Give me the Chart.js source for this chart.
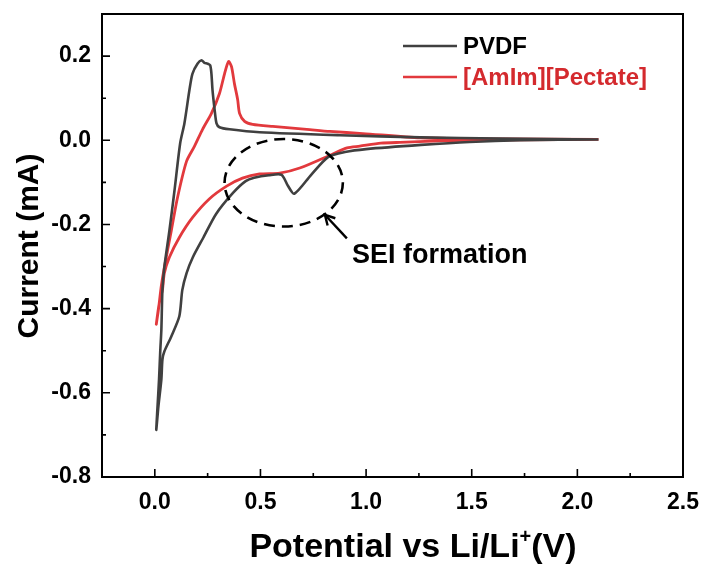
<!DOCTYPE html>
<html><head><meta charset="utf-8">
<script src="https://cdn.jsdelivr.net/npm/chart.js@4.4.0/dist/chart.umd.min.js"></script>
<style>html,body{margin:0;padding:0;background:#fff;}#wrap{width:702px;height:565px;}</style>
</head><body><div id="wrap"><canvas id="c" width="702" height="565"></canvas></div>
<script>
// ---- data ----
const xTicks = [0.0, 0.5, 1.0, 1.5, 2.0, 2.5];
const yTicks = [-0.8, -0.6, -0.4, -0.2, 0.0, 0.2];
const xMinor = [0.25, 0.75, 1.25, 1.75, 2.25];
const yMinor = [-0.7, -0.5, -0.3, -0.1, 0.1];
const seriesNames = ['PVDF', '[AmIm][Pectate]'];
const xTitle = 'Potential vs Li/Li';
const yTitle = 'Current (mA)';
const noteText = 'SEI formation';

const pvdfV = [2.10,1.73,1.49,1.26,1.00,0.90,0.82,0.74,0.66,0.63,0.60,0.54,0.47,0.43,0.37,0.29,0.23,0.18,0.15,0.13,0.116,0.078,0.045,0.036,0.031,0.017,0.007,
  0.012,0.020,0.026,0.031,0.036,0.045,0.069,0.093,0.120,0.140,0.164,0.178,0.202,0.221,0.235,0.249,0.262,0.268,0.273,0.283,0.292,0.306,0.354,0.496,0.876,1.256,1.636,2.10];
const pvdfI = [0.002,0.000,-0.004,-0.011,-0.021,-0.028,-0.040,-0.082,-0.127,-0.108,-0.082,-0.083,-0.089,-0.097,-0.125,-0.175,-0.231,-0.278,-0.316,-0.356,-0.418,-0.466,-0.502,-0.521,-0.568,-0.632,-0.688,
  -0.640,-0.568,-0.498,-0.450,-0.356,-0.302,-0.215,-0.120,-0.007,0.040,0.120,0.158,0.182,0.190,0.184,0.182,0.178,0.158,0.120,0.073,0.040,0.031,0.026,0.019,0.012,0.007,0.004,0.002];

const ilV = [2.10,1.73,1.40,1.16,1.07,0.97,0.91,0.84,0.686,0.591,0.496,0.415,0.340,0.259,0.178,0.116,0.069,0.045,0.036,0.021,0.007,
  0.017,0.031,0.045,0.078,0.107,0.150,0.188,0.226,0.268,0.306,0.330,0.349,0.363,0.377,0.392,0.401,0.425,0.463,0.558,0.719,0.829,0.985,1.256,1.636,2.10];
const ilI = [0.002,0.001,-0.001,-0.005,-0.007,-0.014,-0.018,-0.033,-0.066,-0.078,-0.080,-0.090,-0.109,-0.139,-0.184,-0.231,-0.278,-0.316,-0.356,-0.387,-0.437,
  -0.403,-0.345,-0.302,-0.215,-0.137,-0.050,-0.014,0.026,0.064,0.111,0.158,0.187,0.175,0.134,0.097,0.064,0.045,0.038,0.033,0.026,0.021,0.016,0.006,0.003,0.002];

const FONT = "'Liberation Sans', Arial, sans-serif";
const toPts = (xs, ys) => xs.map((x, i) => ({x: x, y: ys[i]}));

const decor = {
  id: 'decor',
  afterDraw(chart) {
    const ctx = chart.ctx, a = chart.chartArea;
    const sx = chart.scales.x, sy = chart.scales.y;
    ctx.save();
    // frame
    ctx.strokeStyle = '#000'; ctx.lineWidth = 2;
    ctx.strokeRect(a.left, a.top, a.right - a.left, a.bottom - a.top);
    // inward ticks
    ctx.lineWidth = 1.6;
    ctx.beginPath();
    xTicks.forEach(v => { const p = sx.getPixelForValue(v); ctx.moveTo(p, a.bottom); ctx.lineTo(p, a.bottom - 8); });
    xMinor.forEach(v => { const p = sx.getPixelForValue(v); ctx.moveTo(p, a.bottom); ctx.lineTo(p, a.bottom - 4); });
    yTicks.forEach(v => { const p = sy.getPixelForValue(v); ctx.moveTo(a.left, p); ctx.lineTo(a.left + 8, p); });
    yMinor.forEach(v => { const p = sy.getPixelForValue(v); ctx.moveTo(a.left, p); ctx.lineTo(a.left + 4, p); });
    ctx.stroke();

    // dashed ellipse
    const cx = sx.getPixelForValue(0.61), cy = sy.getPixelForValue(-0.101);
    const rx = sx.getPixelForValue(0.61 + 0.28) - cx, ry = sy.getPixelForValue(-0.101 - 0.104) - cy;
    ctx.setLineDash([11, 7]); ctx.lineWidth = 2.6;
    ctx.beginPath(); ctx.ellipse(cx, cy, rx, ry, 0, 0, Math.PI * 2); ctx.stroke();
    ctx.setLineDash([]);
    // arrow
    const tx = sx.getPixelForValue(0.909), ty = sy.getPixelForValue(-0.233);
    const hx = sx.getPixelForValue(0.805), hy = sy.getPixelForValue(-0.177);
    ctx.lineWidth = 2.4;
    ctx.beginPath(); ctx.moveTo(tx, ty); ctx.lineTo(hx, hy); ctx.stroke();
    const ang = Math.atan2(hy - ty, hx - tx);
    ctx.beginPath();
    ctx.moveTo(hx - 11 * Math.cos(ang - 0.5), hy - 11 * Math.sin(ang - 0.5));
    ctx.lineTo(hx, hy);
    ctx.lineTo(hx - 11 * Math.cos(ang + 0.5), hy - 11 * Math.sin(ang + 0.5));
    ctx.stroke();
    // note text
    ctx.fillStyle = '#000'; ctx.font = 'bold 27px ' + FONT;
    ctx.textBaseline = 'middle'; ctx.textAlign = 'left';
    ctx.fillText(noteText, sx.getPixelForValue(0.933), sy.getPixelForValue(-0.275));

    // legend
    const ds = chart.data.datasets;
    const legY = [46, 77];
    ds.forEach((d, i) => {
      ctx.strokeStyle = d.borderColor; ctx.lineWidth = 2.6;
      ctx.beginPath(); ctx.moveTo(403, legY[i]); ctx.lineTo(457, legY[i]); ctx.stroke();
      ctx.fillStyle = i === 0 ? '#000' : '#d42a2e';
      ctx.font = 'bold 24px ' + FONT; ctx.textBaseline = 'middle'; ctx.textAlign = 'left';
      ctx.fillText(d.label, 463, legY[i] + 1);
    });

    // x title with superscript
    ctx.fillStyle = '#000'; ctx.textBaseline = 'alphabetic';
    const big = 'bold 34px ' + FONT, small = 'bold 20px ' + FONT;
    ctx.font = big; const w1 = ctx.measureText(xTitle).width, w3 = ctx.measureText('(V)').width;
    ctx.font = small; const w2 = ctx.measureText('+').width;
    let x0 = 413 - (w1 + w2 + w3) / 2; const base = 557;
    ctx.font = big; ctx.textAlign = 'left'; ctx.fillText(xTitle, x0, base);
    ctx.font = small; ctx.fillText('+', x0 + w1, base - 14);
    ctx.font = big; ctx.fillText('(V)', x0 + w1 + w2, base);
    // y title
    ctx.font = 'bold 30px ' + FONT;
    ctx.translate(30, 246); ctx.rotate(-Math.PI / 2);
    ctx.textAlign = 'center'; ctx.textBaseline = 'middle';
    ctx.fillText(yTitle, 0, 0);
    ctx.restore();
  }
};

const zeroPad = s => { s.paddingTop = 0; s.paddingBottom = 0; s.paddingLeft = 0; s.paddingRight = 0; };

new Chart(document.getElementById('c'), {
  type: 'scatter',
  data: {
    datasets: [
      {label: seriesNames[0], data: toPts(pvdfV, pvdfI), showLine: true, borderColor: '#404040', borderWidth: 2.6, pointRadius: 0, tension: 0.25, fill: false},
      {label: seriesNames[1], data: toPts(ilV, ilI), showLine: true, borderColor: '#e2393d', borderWidth: 2.8, pointRadius: 0, tension: 0.25, fill: false}
    ]
  },
  options: {
    responsive: false, animation: false, devicePixelRatio: 1,
    layout: {padding: {top: 14, right: 19, left: 0, bottom: 0}},
    plugins: {legend: {display: false}, tooltip: {enabled: false}},
    scales: {
      x: {
        type: 'linear', min: -0.25, max: 2.5,
        afterBuildTicks: s => { s.ticks = xTicks.map(v => ({value: v})); },
        afterFit: s => { s.height = 88; zeroPad(s); },
        grid: {display: false, drawTicks: false}, border: {display: false},
        ticks: {padding: 12, color: '#000', font: {family: FONT, size: 23, weight: 'bold'}, callback: v => v.toFixed(1), maxRotation: 0, autoSkip: false}
      },
      y: {
        type: 'linear', min: -0.8, max: 0.3,
        afterBuildTicks: s => { s.ticks = yTicks.map(v => ({value: v})); },
        afterFit: s => { s.width = 102; zeroPad(s); },
        grid: {display: false, drawTicks: false}, border: {display: false},
        ticks: {padding: 11, color: '#000', font: {family: FONT, size: 23, weight: 'bold'}, callback: v => v.toFixed(1), autoSkip: false}
      }
    }
  },
  plugins: [decor]
});
</script></body></html>
